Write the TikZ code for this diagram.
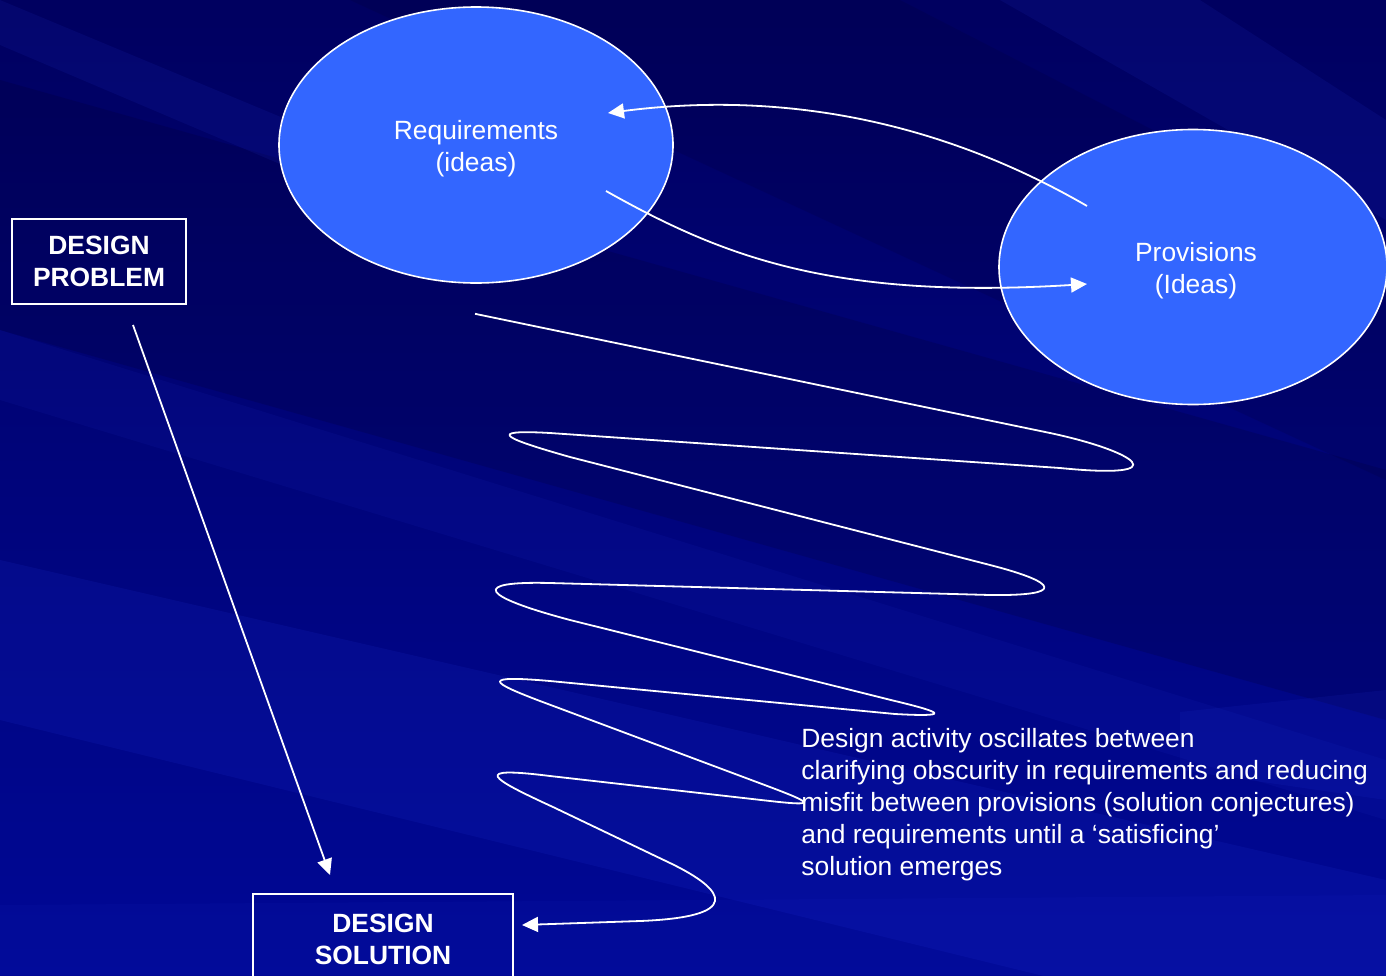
\documentclass[tikz,border=0pt]{standalone}
\usepackage{fontspec}
\setmainfont{Liberation Sans}
\usetikzlibrary{arrows.meta,shapes.geometric}

\definecolor{bubblefill}{RGB}{51,102,255}
\definecolor{nightA}{RGB}{0,0,96}
\definecolor{nightB}{RGB}{0,0,120}
\definecolor{nightC}{RGB}{0,8,150}
\definecolor{streak}{RGB}{40,60,230}
\definecolor{shadow}{RGB}{0,0,40}

\tikzset{
  bubble/.style={ellipse, draw=white, line width=0.8pt, fill=bubblefill,
    minimum width=197pt, minimum height=138pt, inner sep=0pt},
  bubbletext/.style={text=white, align=center, inner sep=0pt,
    font=\fontsize{13.2}{16}\selectfont},
  framebox/.style={draw=white, line width=1pt, text=white, align=center,
    inner sep=0pt, font=\bfseries\fontsize{13.2}{16}\selectfont},
  flow/.style={draw=white, line width=0.9pt, line join=round,
    -{Triangle[length=8pt,width=7.5pt]}},
  note/.style={text=white, align=left, inner sep=0pt, anchor=north west,
    font=\fontsize{13.2}{16}\selectfont}
}

\begin{document}
\begin{tikzpicture}[x=0.5pt,y=-0.5pt]
\useasboundingbox (0,0) rectangle (1386,975);

% backdrop with diagonal light and dark streaks
\begin{scope}
  \clip (0,0) rectangle (1386,975);
  \shade[top color=nightA, middle color=nightB, bottom color=nightC] (0,0) rectangle (1386,975);
  \fill[shadow, opacity=.18] (0,80) -- (0,330) -- (1386,720) -- (1386,470) -- cycle;
  \fill[shadow, opacity=.15] (350,0) -- (900,0) -- (1386,250) -- (1386,480) -- cycle;
  \fill[streak, opacity=.10] (0,0) -- (0,45) -- (400,215) -- (420,175) -- cycle;
  \fill[streak, opacity=.12] (0,560) -- (0,720) -- (1386,1060) -- (1386,880) -- cycle;
  \fill[streak, opacity=.08] (0,330) -- (0,400) -- (1386,820) -- (1386,760) -- cycle;
  \fill[streak, opacity=.10] (1180,712) -- (1386,690) -- (1386,800) -- (1180,770) -- cycle;
  \fill[streak, opacity=.10] (1000,0) -- (1200,0) -- (1386,120) -- (1386,220) -- cycle;
  \fill[streak, opacity=.06] (0,905) -- (1386,895) -- (1386,975) -- (0,975) -- cycle;
\end{scope}

% the two idea spaces
\node[bubble] (req)  at (476,145) {};
\node[bubble, minimum width=194pt, minimum height=137.5pt] (prov) at (1193,267) {};
\node[bubbletext] (reqtxt)  at (476,149) {Requirements\\(ideas)};
\node[bubbletext] (provtxt) at (1196,271) {Provisions\\(Ideas)};

% problem and solution frames
\node[framebox, minimum width=87pt, minimum height=42.5pt] (dp) at (99,261.5) {DESIGN\\PROBLEM};
\node[framebox, minimum width=130pt, minimum height=45pt, anchor=north] (ds) at (383,893) {DESIGN\\SOLUTION};

% connector end points
\coordinate (reqIn)   at ([shift={(132,-32)}]req.center);
\coordinate (reqOut)  at ([shift={(130,46)}]req.center);
\coordinate (provOut) at ([shift={(-106,-61)}]prov.center);
\coordinate (provIn)  at ([shift={(-106,17)}]prov.center);
\coordinate (zzStart) at ([shift={(-1,30)}]req.south);
\coordinate (zzEnd)   at ([shift={(8,-14)}]ds.east);
\coordinate (dpOut)   at ([shift={(34,20)}]dp.south);
\coordinate (dsIn)    at ([shift={(-53,-18)}]ds.north);

% exchange between requirements and provisions
\draw[flow] (provOut) .. controls (930,115) and (770,92) .. (reqIn);
\draw[flow] (reqOut) .. controls (720,255) and (830,300) .. (provIn);

% direct route from problem to solution
\draw[flow] (dpOut) -- (dsIn);

% oscillating route towards the solution
\draw[flow] (zzStart) -- (1050,433)
  .. controls (1135,451) and (1180,480) .. (1060,468)
  -- (550,433)
  .. controls (480,429) and (510,440) .. (570,457)
  -- (990,565)
  .. controls (1060,583) and (1065,596) .. (990,595)
  -- (550,583)
  .. controls (470,581) and (480,596) .. (570,620)
  -- (895,701)
  .. controls (945,713) and (950,717) .. (895,714)
  -- (550,681)
  .. controls (480,675) and (490,682) .. (540,701)
  -- (770,787)
  .. controls (815,804) and (815,806) .. (770,801)
  -- (550,776)
  .. controls (470,766) and (490,778) .. (553,807)
  -- (670,863)
  .. controls (728,891) and (742,917) .. (640,921)
  -- (zzEnd);

% explanatory note
\node[note] (expl) at (801,728) {Design activity oscillates between\\
clarifying obscurity in requirements and reducing\\
misfit between provisions (solution conjectures)\\
and requirements until a ‘satisficing’\\
solution emerges};
\end{tikzpicture}
\end{document}
